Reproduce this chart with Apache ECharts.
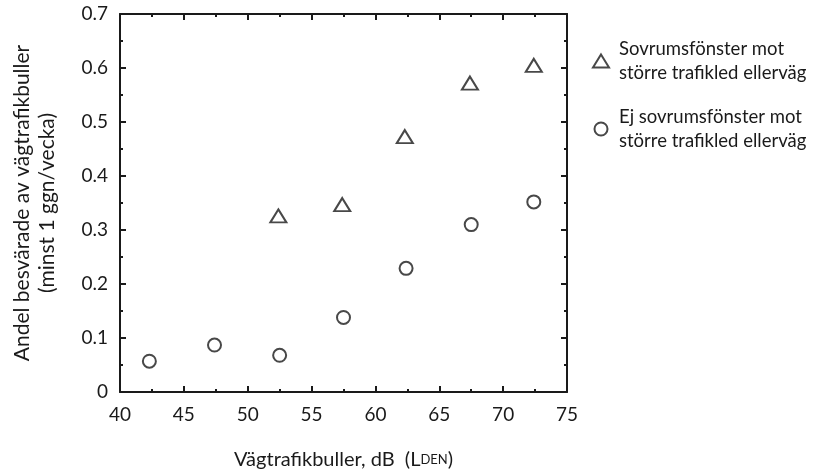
<!DOCTYPE html>
<html>
<head>
<meta charset="utf-8">
<script src="https://cdn.jsdelivr.net/npm/echarts@6/dist/echarts.min.js"></script>
<style>
  html, body { margin: 0; padding: 0; background: #fff; }
  #chart { width: 837px; height: 475px; }
</style>
</head>
<body>
<div id="chart"></div>
<script>
// bedroom window facing major road
var xFacing = [52.4, 57.4, 62.3, 67.4, 72.4];
var yFacing = [0.326, 0.347, 0.473, 0.572, 0.605];
// bedroom window not facing major road
var xNotFacing = [42.3, 47.4, 52.5, 57.5, 62.4, 67.5, 72.4];
var yNotFacing = [0.057, 0.087, 0.068, 0.138, 0.229, 0.310, 0.352];

var nameFacing = "Sovrumsfönster mot\nstörre trafikled ellerväg";
var nameNotFacing = "Ej sovrumsfönster mot\nstörre trafikled ellerväg";

var font = "Lato, 'Open Sans', sans-serif";
var ink = "#1a1a1a";

function pairs(xs, ys) {
  return xs.map(function (x, i) { return [x, ys[i]]; });
}

var chart = echarts.init(document.getElementById("chart"));

var axisLine = { show: true, onZero: false, lineStyle: { color: ink, width: 2 } };
var tick = { inside: true, length: 6, lineStyle: { color: ink, width: 2 } };
var minor = { show: true, splitNumber: 2, length: 3, lineStyle: { color: ink, width: 2 } };

var option = {
  backgroundColor: "#fff",
  animation: false,
  grid: { left: 120, right: 270, top: 14, bottom: 82 },
  legend: {
    orient: "vertical",
    left: 587,
    top: 32,
    itemGap: 20,
    itemWidth: 16,
    itemHeight: 13,
    itemStyle: { borderWidth: 2 },
    textStyle: { fontFamily: font, fontSize: 18.5, color: ink, lineHeight: 24, padding: [0, 0, 0, 5] },
    data: [nameFacing, nameNotFacing]
  },
  xAxis: [
    {
      type: "value", min: 40, max: 75, interval: 5,
      axisLine: axisLine, axisTick: tick, minorTick: minor,
      splitLine: { show: false },
      axisLabel: { margin: 13, fontFamily: font, fontSize: 19, color: ink },
      name: "{a|Vägtrafikbuller, dB  (L}{b|DEN}{a|)}",
      nameLocation: "middle",
      nameGap: 58,
      nameTextStyle: {
        rich: {
          a: { fontFamily: font, fontSize: 20, color: ink },
          b: { fontFamily: font, fontSize: 13, color: ink }
        }
      }
    },
    {
      type: "value", min: 40, max: 75, interval: 5, position: "top",
      axisLine: axisLine, axisTick: tick, minorTick: minor,
      splitLine: { show: false },
      axisLabel: { show: false }
    }
  ],
  yAxis: [
    {
      type: "value", min: 0, max: 0.7, interval: 0.1,
      axisLine: axisLine, axisTick: tick, minorTick: minor,
      splitLine: { show: false },
      axisLabel: {
        margin: 12, fontFamily: font, fontSize: 19, color: ink,
        formatter: function (v) { return v === 0 ? "0" : v.toFixed(1); }
      },
      name: "Andel besvärade av vägtrafikbuller\n(minst 1 ggn/vecka)",
      nameLocation: "middle",
      nameGap: 60,
      nameTextStyle: { fontFamily: font, fontSize: 21, color: ink, lineHeight: 25 }
    },
    {
      type: "value", min: 0, max: 0.7, interval: 0.1, position: "right",
      axisLine: axisLine, axisTick: tick, minorTick: minor,
      splitLine: { show: false },
      axisLabel: { show: false }
    }
  ],
  series: [
    {
      name: nameFacing,
      type: "scatter",
      symbol: "emptyTriangle",
      symbolSize: [16, 13],
      itemStyle: { color: ink, borderColor: ink, borderWidth: 2 },
      data: pairs(xFacing, yFacing)
    },
    {
      name: nameNotFacing,
      type: "scatter",
      symbol: "emptyCircle",
      symbolSize: 13,
      itemStyle: { color: ink, borderColor: ink, borderWidth: 2 },
      data: pairs(xNotFacing, yNotFacing)
    }
  ]
};

chart.setOption(option);
</script>
</body>
</html>
